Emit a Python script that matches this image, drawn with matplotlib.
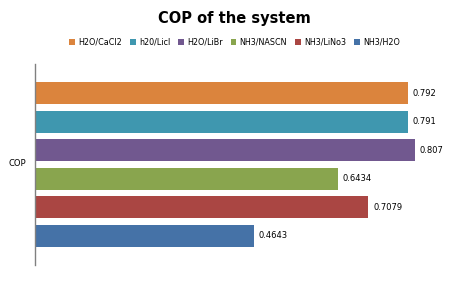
import numpy as np
import matplotlib.pyplot as plt

# data
series = ["H2O/CaCl2", "h20/Licl", "H2O/LiBr", "NH3/NASCN", "NH3/LiNo3", "NH3/H2O"]
cop = [0.792, 0.791, 0.807, 0.6434, 0.7079, 0.4643]
labels = ["0.792", "0.791", "0.807", "0.6434", "0.7079", "0.4643"]
colors = ["#DB843D", "#3F97AF", "#71588F", "#89A54E", "#AA4643", "#4572A7"]

W, H = 469, 282
fig = plt.figure(figsize=(W / 100, H / 100), dpi=100)
ax = fig.add_axes([35 / W, 1 - 265 / H, (459 - 35) / W, (265 - 64) / H])

n = len(series)
ypos = np.arange(n)[::-1]  # first series on top
handles = []
for y, v, lab, c, name in zip(ypos, cop, labels, colors, series):
    b = ax.barh(y, v, height=0.77, color=c, label=name)
    handles.append(b)
    ax.text(v + 0.01, y, lab, va="center", ha="left", fontsize=6)

ax.set_xlim(0, 0.9)
ax.set_ylim(-1.03, n - 1 + 1.03)
ax.set_xticks([])
ax.set_yticks([])
for s in ["top", "right", "bottom"]:
    ax.spines[s].set_visible(False)
ax.spines["left"].set_color("#808080")
ax.spines["left"].set_linewidth(1)

fig.text(17 / W, 1 - 164 / H, "COP", fontsize=6, ha="center", va="center")
fig.text(0.5, 1 - 18 / H, "COP of the system", fontsize=10.5, fontweight="bold",
         ha="center", va="center")

fig.legend(handles=handles, labels=series, loc="center", bbox_to_anchor=(0.5, 1 - 42 / H),
           ncol=6, frameon=False, fontsize=5.8, handlelength=0.7, handleheight=0.7,
           handletextpad=0.4, columnspacing=1.0)

fig.savefig("out.png", dpi=100)
